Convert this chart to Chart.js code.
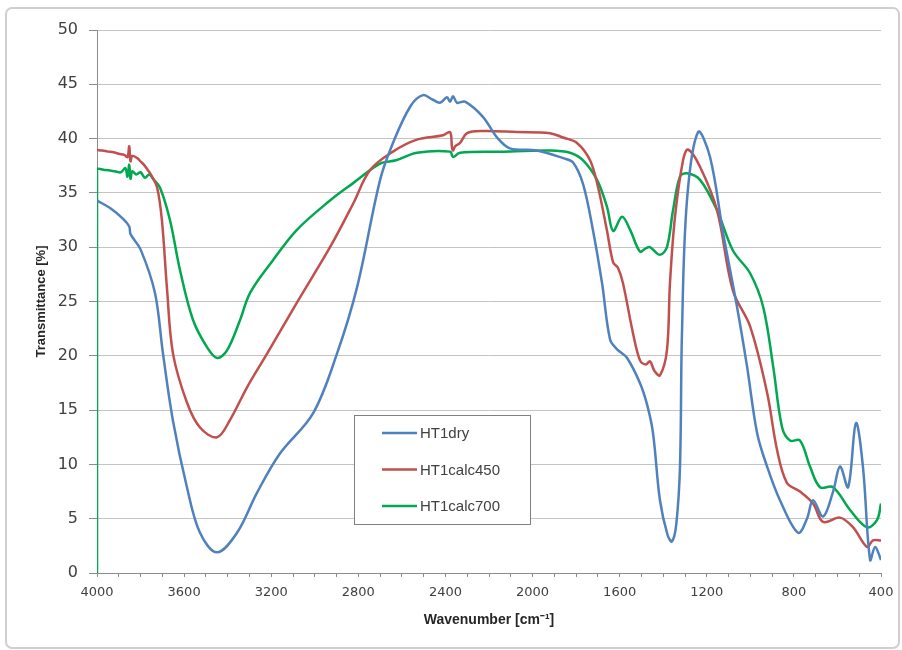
<!DOCTYPE html>
<html>
<head>
<meta charset="utf-8">
<script src="https://cdn.jsdelivr.net/npm/chart.js@4.4.1/dist/chart.umd.min.js"></script>
<style>
  html, body { margin: 0; padding: 0; background: #fff; }
  #wrap { width: 902px; height: 650px; }
</style>
</head>
<body>
<div id="wrap"><canvas id="ftir"></canvas></div>
<script>
// FTIR spectra, wavenumber [cm-1] vs transmittance [%]
const dryWn = [4000, 3940, 3880, 3852, 3846, 3800, 3734, 3697, 3651, 3587, 3527, 3449, 3357, 3265, 3160, 3008, 2898, 2806, 2700,
  2641, 2560, 2503, 2460, 2425, 2393, 2379, 2365, 2347, 2310, 2228, 2163, 2104, 1980, 1860, 1814, 1768, 1722, 1681, 1644, 1612,
  1566, 1507, 1474, 1447, 1415, 1380, 1360, 1340, 1323, 1314, 1291, 1240, 1185, 1125, 1061, 1015, 969, 923, 864, 781, 740, 712,
  666, 620, 588, 551, 515, 483, 450, 427, 400];
const dryT = [34.3, 33.6, 32.6, 31.9, 31.2, 29.8, 25.8, 20.2, 14.0, 7.9, 3.7, 1.9, 3.7, 7.4, 11.0, 14.7, 20.2, 26.3, 36.2,
  39.6, 43.0, 44.0, 43.6, 43.3, 43.8, 43.4, 43.9, 43.3, 43.4, 42.0, 40.1, 39.1, 38.9, 38.2, 37.8, 35.8, 31.5, 26.7, 21.5, 20.6,
  19.8, 17.5, 15.5, 12.9, 6.7, 3.5, 2.9, 4.5, 9.8, 22.0, 34.3, 40.6, 38.3, 31.3, 24.5, 19.0, 12.9, 9.8, 6.7, 3.7, 5.0, 6.7,
  5.2, 7.5, 9.8, 7.9, 13.8, 9.8, 1.2, 2.4, 1.2];

const c450Wn = [4000, 3975, 3950, 3925, 3900, 3875, 3860, 3852, 3846, 3838, 3815, 3800, 3785, 3770, 3750, 3724, 3702, 3679,
  3651, 3587, 3527, 3449, 3389, 3311, 3219, 3082, 2930, 2824, 2746, 2641, 2531, 2411, 2379, 2370, 2365, 2355, 2333, 2301, 2228,
  2071, 1920, 1860, 1796, 1736, 1699, 1658, 1630, 1608, 1585, 1539, 1507, 1480, 1461, 1440, 1415, 1383, 1369, 1346, 1309, 1286,
  1231, 1153, 1080, 1001, 923, 877, 832, 772, 712, 666, 588, 528, 464, 437, 400];
const c450T = [38.95, 38.9, 38.8, 38.75, 38.6, 38.5, 38.3, 39.3, 37.9, 38.4, 38.2, 37.9, 37.6, 37.2, 36.6, 35.5, 32.5, 26.3,
  20.2, 15.7, 13.4, 12.5, 14.1, 17.1, 20.2, 24.9, 30.0, 34.0, 37.1, 38.8, 39.9, 40.3, 40.6, 39.2, 38.9, 39.3, 39.6, 40.5, 40.7,
  40.6, 40.5, 40.1, 39.6, 38.0, 35.5, 31.5, 28.6, 28.1, 26.7, 22.1, 19.6, 19.2, 19.5, 18.6, 18.2, 20.5, 26.7, 32.8, 38.0, 39.0,
  37.4, 33.4, 26.0, 22.7, 16.6, 11.3, 8.3, 7.5, 6.4, 4.7, 5.1, 4.2, 2.4, 3.0, 3.0];

const c700Wn = [4000, 4000, 3960, 3920, 3890, 3870, 3860, 3852, 3846, 3838, 3820, 3800, 3780, 3760, 3743, 3711, 3665, 3619,
  3559, 3495, 3449, 3403, 3343, 3297, 3192, 3082, 2930, 2824, 2700, 2627, 2531, 2379, 2365, 2333, 2150, 1920, 1828, 1768, 1704,
  1658, 1630, 1589, 1552, 1507, 1480, 1461, 1415, 1383, 1355, 1323, 1291, 1231, 1153, 1080, 1001, 941, 895, 854, 818, 772, 726,
  680, 620, 542, 464, 418, 400];
const c700T = [0, 37.1, 37.1, 37.0, 36.9, 37.3, 36.5, 37.6, 36.3, 37.0, 36.7, 36.9, 36.4, 36.7, 36.3, 35.5, 32.5, 27.9,
  23.3, 20.8, 19.8, 20.5, 23.3, 25.8, 28.8, 31.6, 34.3, 35.9, 37.7, 38.0, 38.7, 38.8, 38.3, 38.7, 38.8, 38.9, 38.7, 38.0, 36.2,
  33.7, 31.5, 32.8, 31.6, 29.6, 29.9, 30.0, 29.3, 30.0, 33.4, 36.5, 36.8, 36.2, 33.4, 29.7, 27.6, 24.5, 19.0, 13.4, 12.2, 12.2, 9.8,
  7.9, 7.9, 5.8, 4.2, 4.9, 6.4];

const seriesNames = ['HT1dry', 'HT1calc450', 'HT1calc700'];
const seriesColors = ['#4f81bd', '#c0504d', '#00a84f'];

const toPoints = (wn, t) => wn.map((x, i) => ({ x: x, y: t[i] }));

// white page with a rounded frame around the whole chart
const frame = {
  id: 'frame',
  beforeDraw(chart) {
    const ctx = chart.ctx;
    ctx.save();
    ctx.fillStyle = '#fff';
    ctx.fillRect(0, 0, chart.width, chart.height);
    ctx.strokeStyle = '#cfcfcf';
    ctx.lineWidth = 2;
    ctx.beginPath();
    ctx.roundRect(6, 8, 893, 640, 6);
    ctx.stroke();
    ctx.restore();
  }
};

// boxed legend inside the plot, Excel style
const boxLegend = {
  id: 'boxLegend',
  afterDatasetsDraw(chart) {
    const ctx = chart.ctx;
    ctx.save();
    ctx.fillStyle = '#fff';
    ctx.fillRect(354, 415, 176, 109);
    ctx.strokeStyle = '#808080';
    ctx.lineWidth = 1;
    ctx.strokeRect(354.5, 415.5, 176, 109);
    ctx.font = '15px "Liberation Sans", Arial, sans-serif';
    ctx.textBaseline = 'middle';
    seriesNames.forEach((name, i) => {
      const y = 433 + i * 36.5;
      ctx.strokeStyle = seriesColors[i];
      ctx.lineWidth = 2.5;
      ctx.beginPath();
      ctx.moveTo(382, y);
      ctx.lineTo(417, y);
      ctx.stroke();
      ctx.fillStyle = '#404040';
      ctx.fillText(name, 420, y + 1);
    });
    ctx.restore();
  }
};

new Chart(document.getElementById('ftir'), {
  type: 'line',
  data: {
    datasets: [
      { label: seriesNames[0], data: toPoints(dryWn, dryT) },
      { label: seriesNames[1], data: toPoints(c450Wn, c450T) },
      { label: seriesNames[2], data: toPoints(c700Wn, c700T) }
    ].map((d, i) => Object.assign(d, {
      borderColor: seriesColors[i],
      borderWidth: 2.5,
      pointRadius: 0,
      tension: 0.35,
      fill: false
    }))
  },
  options: {
    responsive: true,
    maintainAspectRatio: false,
    animation: false,
    layout: { padding: { left: 34, right: 21, top: 30, bottom: 20 } },
    plugins: { legend: { display: false }, tooltip: { enabled: false } },
    scales: {
      x: {
        type: 'linear',
        reverse: true,
        min: 400,
        max: 4000,
        afterFit(scale) { scale.height = 57; },
        border: { color: '#8c8c8c' },
        grid: { drawOnChartArea: false, drawTicks: true, tickLength: 4, color: '#8c8c8c' },
        ticks: {
          stepSize: 100,
          autoSkip: false,
          maxRotation: 0,
          padding: 8,
          color: '#404040',
          font: { family: '"DejaVu Sans", sans-serif', size: 13 },
          callback: v => (v % 400 === 0 ? String(v) : '')
        },
        title: {
          display: true,
          text: 'Wavenumber [cm\u207B\u00B9]',
          color: '#262626',
          padding: { top: 0, bottom: 1 },
          font: { family: '"Liberation Sans", Arial, sans-serif', size: 14, weight: 'bold' }
        }
      },
      y: {
        min: 0,
        max: 50,
        afterFit(scale) { scale.width = 63; },
        border: { color: '#8c8c8c' },
        grid: { color: '#c4c4c4', tickLength: 8, tickColor: '#8c8c8c' },
        ticks: {
          stepSize: 5,
          padding: 11,
          color: '#404040',
          font: { family: '"DejaVu Sans", sans-serif', size: 16 }
        },
        title: {
          display: true,
          text: 'Transmittance [%]',
          color: '#262626',
          padding: { top: 0, bottom: 0 },
          font: { family: '"Liberation Sans", Arial, sans-serif', size: 13, weight: 'bold' }
        }
      }
    }
  },
  plugins: [frame, boxLegend]
});
</script>
</body>
</html>
